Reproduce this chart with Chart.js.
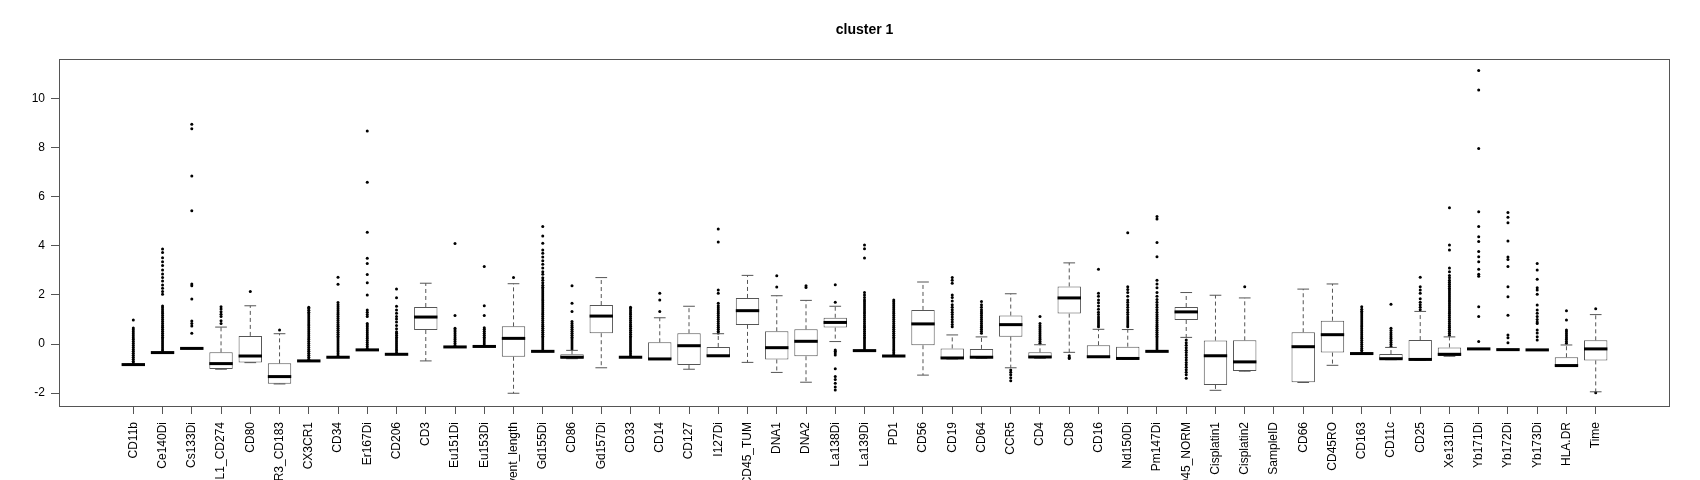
<!DOCTYPE html>
<html lang="en">
<head>
    <meta charset="UTF-8">
    <title>cluster 1</title>
    <style>
        html, body { margin: 0; padding: 0; background: #fff; }
        #wrap { width: 1700px; height: 480px; }
    </style>
</head>
<body>
    <div id="wrap"><canvas id="boxChart" width="1700" height="480"></canvas></div>
    <script src="https://cdn.jsdelivr.net/npm/chart.js"></script>
    <script>
        const categories = ['CD11b', 'Ce140Di', 'Cs133Di', 'PD.L1_CD274', 'CD80', 'CXCR3_CD183', 'CX3CR1', 'CD34',
            'Er167Di', 'CD206', 'CD3', 'Eu151Di', 'Eu153Di', 'Event_length', 'Gd155Di', 'CD86', 'Gd157Di', 'CD33',
            'CD14', 'CD127', 'I127Di', 'CD45_TUM', 'DNA1', 'DNA2', 'La138Di', 'La139Di', 'PD1', 'CD56', 'CD19',
            'CD64', 'CCR5', 'CD4', 'CD8', 'CD16', 'Nd150Di', 'Pm147Di', 'CD45_NORM', 'Cisplatin1', 'Cisplatin2',
            'SampleID', 'CD66', 'CD45RO', 'CD163', 'CD11c', 'CD25', 'Xe131Di', 'Yb171Di', 'Yb172Di', 'Yb173Di',
            'HLA.DR', 'Time'];

        const whiskerLow = [-0.86, -0.36, -0.19, -1.03, -0.76, -1.63, -0.70, -0.55, -0.25, -0.43, -0.69, -0.13, -0.11,
            -2.01, -0.31, -0.60, -0.97, -0.55, -0.62, -1.03, -0.50, -0.75, -1.16, -1.56, 0.10, -0.28, -0.50, -1.27,
            -0.61, -0.58, -0.97, -0.58, -0.34, -0.54, -0.61, -0.31, 0.27, -1.89, -1.11, null, -1.57, -0.87, -0.40,
            -0.64, -0.66, -0.50, -0.21, -0.24, -0.25, -0.91, -1.95];
        const q1 = [-0.85, -0.36, -0.19, -1.02, -0.75, -1.62, -0.70, -0.55, -0.25, -0.43, 0.57, -0.13, -0.11,
            -0.52, -0.31, -0.59, 0.44, -0.55, -0.61, -0.86, -0.49, 0.78, -0.63, -0.50, 0.67, -0.28, -0.50, -0.05,
            -0.60, -0.57, 0.30, -0.57, 1.24, -0.53, -0.60, -0.31, 0.98, -1.67, -1.10, null, -1.56, -0.35, -0.40,
            -0.63, -0.65, -0.49, -0.21, -0.24, -0.25, -0.90, -0.67];
        const median = [-0.84, -0.35, -0.18, -0.80, -0.49, -1.33, -0.69, -0.54, -0.24, -0.42, 1.10, -0.12, -0.10,
            0.23, -0.30, -0.54, 1.14, -0.54, -0.61, -0.07, -0.48, 1.36, -0.15, 0.11, 0.88, -0.27, -0.49, 0.82,
            -0.57, -0.54, 0.79, -0.53, 1.88, -0.52, -0.59, -0.30, 1.31, -0.48, -0.73, null, -0.11, 0.38, -0.39,
            -0.60, -0.63, -0.42, -0.20, -0.23, -0.24, -0.88, -0.20];
        const q3 = [-0.83, -0.34, -0.17, -0.34, 0.33, -0.79, -0.68, -0.53, -0.23, -0.41, 1.51, -0.11, -0.09,
            0.72, -0.29, -0.42, 1.59, -0.53, 0.07, 0.44, -0.12, 1.88, 0.52, 0.60, 1.07, -0.26, -0.48, 1.39,
            -0.18, -0.20, 1.16, -0.34, 2.35, -0.05, -0.11, -0.29, 1.51, 0.14, 0.15, null, 0.48, 0.95, -0.38,
            -0.41, 0.16, -0.14, -0.19, -0.22, -0.23, -0.54, 0.15];
        const whiskerHigh = [-0.82, -0.34, -0.17, 0.69, 1.56, 0.42, -0.68, -0.53, -0.23, -0.41, 2.48, -0.11, -0.09,
            2.46, -0.29, -0.26, 2.71, -0.53, 1.07, 1.54, 0.42, 2.80, 1.97, 1.78, 1.54, -0.26, -0.48, 2.53,
            0.37, 0.29, 2.05, -0.03, 3.31, 0.60, 0.59, -0.29, 2.10, 1.99, 1.88, null, 2.24, 2.45, -0.38,
            -0.14, 1.33, 0.29, -0.19, -0.22, -0.23, -0.04, 1.20];

        const outliers = [
            [-0.78, -0.7, -0.62, -0.54, -0.46, -0.38, -0.3, -0.22, -0.14, -0.06, 0.02, 0.1, 0.18, 0.26, 0.34, 0.42, 0.5, 0.58, 0.65, 0.98],
            [-0.28, -0.2, -0.12, -0.04, 0.04, 0.12, 0.2, 0.28, 0.36, 0.44, 0.52, 0.6, 0.68, 0.76, 0.84, 0.92, 1.0, 1.08, 1.16, 1.24, 1.32, 1.4, 1.48, 1.55,
             2.03, 2.14, 2.27, 2.41, 2.57, 2.71, 2.86, 3.02, 3.2, 3.36, 3.52, 3.73, 3.88],
            [0.44, 0.73, 0.84, 0.94, 1.84, 2.38, 2.45, 5.44, 6.86, 8.78, 8.97],
            [0.84, 0.95, 1.12, 1.21, 1.32, 1.43, 1.52],
            [2.14],
            [0.57],
            [-0.62, -0.54, -0.46, -0.38, -0.3, -0.22, -0.14, -0.06, 0.02, 0.1, 0.18, 0.26, 0.34, 0.42, 0.5, 0.58, 0.66, 0.74, 0.82, 0.9, 0.98, 1.06, 1.14, 1.22, 1.3, 1.38, 1.45, 1.5],
            [-0.48, -0.4, -0.32, -0.24, -0.16, -0.08, 0, 0.08, 0.16, 0.24, 0.32, 0.4, 0.48, 0.56, 0.64, 0.72, 0.8, 0.88, 0.96, 1.04, 1.12, 1.2, 1.28, 1.36, 1.44, 1.52, 1.6, 1.69, 2.44, 2.72],
            [-0.18, -0.1, -0.02, 0.06, 0.14, 0.22, 0.3, 0.38, 0.46, 0.54, 0.62, 0.7, 0.78, 0.84, 1.12, 1.2, 1.3, 1.39, 2.0, 2.5, 2.84, 3.29, 3.5, 4.56, 6.6, 8.69],
            [-0.36, -0.28, -0.2, -0.12, -0.04, 0.04, 0.12, 0.2, 0.28, 0.36, 0.44, 0.5, 0.62, 0.75, 0.9, 1.02, 1.12, 1.25, 1.39, 1.54, 1.89, 2.24],
            [],
            [-0.06, 0.02, 0.1, 0.18, 0.26, 0.34, 0.42, 0.5, 0.57, 0.64, 1.16, 4.1],
            [-0.04, 0.04, 0.12, 0.2, 0.28, 0.36, 0.44, 0.52, 0.6, 0.66, 1.16, 1.56, 3.16],
            [2.71],
            [-0.24, -0.16, -0.08, 0, 0.08, 0.16, 0.24, 0.32, 0.4, 0.48, 0.56, 0.64, 0.72, 0.8, 0.88, 0.96, 1.04, 1.12, 1.2, 1.28, 1.36, 1.44, 1.52, 1.6,
             1.68, 1.76, 1.84, 1.92, 2.0, 2.08, 2.16, 2.24, 2.32, 2.4, 2.5, 2.6, 2.7, 2.85, 2.95, 3.1, 3.25, 3.4, 3.55, 3.7, 3.84, 4.11, 4.41, 4.79],
            [-0.2, -0.12, -0.04, 0.04, 0.12, 0.2, 0.28, 0.36, 0.44, 0.52, 0.6, 0.68, 0.76, 0.84, 0.92, 1.33, 1.66, 2.38],
            [],
            [-0.48, -0.4, -0.32, -0.24, -0.16, -0.08, 0, 0.08, 0.16, 0.24, 0.32, 0.4, 0.48, 0.56, 0.64, 0.72, 0.8, 0.88, 0.96, 1.04, 1.12, 1.2, 1.28, 1.36, 1.44, 1.5],
            [1.33, 1.8, 2.07],
            [],
            [0.45, 0.52, 0.6, 0.68, 0.76, 0.84, 0.92, 1.0, 1.08, 1.16, 1.24, 1.32, 1.4, 1.48, 1.56, 1.66, 2.07, 2.2, 4.16, 4.69],
            [],
            [2.33, 2.79],
            [2.31, 2.38],
            [-1.88, -1.75, -1.6, -1.45, -1.33, -1.01, -0.45, -0.37, -0.3, -0.24, 1.7, 2.42],
            [-0.2, -0.12, -0.04, 0.04, 0.12, 0.2, 0.28, 0.36, 0.44, 0.52, 0.6, 0.68, 0.76, 0.84, 0.92, 1.0, 1.08, 1.16, 1.24, 1.32, 1.4, 1.48, 1.56, 1.64,
             1.72, 1.8, 1.9, 2.0, 2.1, 3.51, 3.89, 4.04],
            [-0.44, -0.36, -0.28, -0.2, -0.12, -0.04, 0.04, 0.12, 0.2, 0.28, 0.36, 0.44, 0.52, 0.6, 0.68, 0.76, 0.84, 0.92, 1.0, 1.08, 1.16, 1.24, 1.32, 1.4,
             1.48, 1.56, 1.64, 1.72, 1.8],
            [],
            [0.7, 0.8, 0.9, 1.0, 1.1, 1.2, 1.3, 1.4, 1.5, 1.6, 1.75, 1.9, 2.0, 2.48, 2.6, 2.71],
            [0.44, 0.52, 0.6, 0.68, 0.76, 0.84, 0.92, 1.0, 1.08, 1.16, 1.24, 1.32, 1.4, 1.5, 1.6, 1.73],
            [-1.06, -1.15, -1.25, -1.38, -1.5],
            [0.03, 0.1, 0.18, 0.26, 0.34, 0.42, 0.5, 0.58, 0.66, 0.74, 0.84, 1.12],
            [-0.48, -0.55, -0.59],
            [0.7, 0.78, 0.86, 0.94, 1.02, 1.1, 1.2, 1.3, 1.42, 1.55, 1.68, 1.8, 1.95, 2.07, 3.05],
            [0.7, 0.78, 0.86, 0.94, 1.02, 1.1, 1.2, 1.3, 1.4, 1.5, 1.6, 1.7, 1.8, 1.95, 2.1, 2.22, 2.34, 4.54],
            [-0.24, -0.16, -0.08, 0, 0.08, 0.16, 0.24, 0.32, 0.4, 0.48, 0.56, 0.64, 0.72, 0.8, 0.88, 0.96, 1.04, 1.12, 1.2, 1.3, 1.4, 1.5, 1.6, 1.7,
             1.82, 1.95, 2.1, 2.3, 2.45, 2.6, 3.56, 4.14, 5.1, 5.2],
            [0.16, 0.05, -0.05, -0.15, -0.25, -0.35, -0.45, -0.55, -0.65, -0.75, -0.85, -0.95, -1.05, -1.15, -1.25, -1.4],
            [],
            [2.34],
            [],
            [],
            [],
            [-0.34, -0.26, -0.18, -0.1, -0.02, 0.06, 0.14, 0.22, 0.3, 0.38, 0.46, 0.54, 0.62, 0.7, 0.78, 0.86, 0.94, 1.02, 1.1, 1.18, 1.26, 1.34, 1.42, 1.52],
            [-0.1, -0.02, 0.06, 0.14, 0.22, 0.3, 0.38, 0.46, 0.55, 0.64, 1.62],
            [1.4, 1.5, 1.6, 1.7, 1.85, 2.07, 2.2, 2.34, 2.72],
            [0.36, 0.44, 0.52, 0.6, 0.68, 0.76, 0.84, 0.92, 1.0, 1.08, 1.16, 1.24, 1.32, 1.4, 1.48, 1.56, 1.64, 1.72, 1.8, 1.88, 1.96, 2.04, 2.12, 2.2,
             2.28, 2.36, 2.44, 2.52, 2.6, 2.7, 2.8, 2.95, 3.1, 3.84, 4.04, 5.56],
            [0.1, 1.12, 1.52, 2.76, 2.85, 3.05, 3.36, 3.56, 3.77, 4.18, 4.38, 4.79, 5.4, 7.98, 10.37, 11.16],
            [0.05, 0.26, 0.37, 1.17, 1.93, 2.34, 3.16, 3.45, 3.55, 4.2, 4.95, 5.17, 5.37],
            [0.16, 0.3, 0.45, 0.57, 0.84, 0.9, 1.0, 1.12, 1.25, 1.39, 1.59, 2.03, 2.2, 2.3, 2.64, 3.02, 3.29],
            [0.03, 0.1, 0.18, 0.26, 0.34, 0.42, 0.5, 0.57, 0.98, 1.36],
            [1.44, -1.99]
        ];

        const yTicks = [-2, 0, 2, 4, 6, 8, 10];
        const yRange = [-2.53, 11.63];
        const xRange = [-1.54, 53.54];
        const chartTitle = 'cluster 1';

        const lineGrey = '#555555';
        const fontFamily = '"Liberation Sans", Arial, Helvetica, sans-serif';

        // boxes as floating bars, outliers as scatter points
        const boxData = [];
        categories.forEach((c, i) => {
            if (q1[i] !== null) boxData.push({ x: i + 1, y: [q1[i], q3[i]] });
        });
        const outlierData = [];
        outliers.forEach((vals, i) => vals.forEach(v => outlierData.push({ x: i + 1, y: v })));

        // whiskers, caps, medians, plot frame and the title centred over the plot
        const boxParts = {
            id: 'boxParts',
            afterDatasetsDraw(chart) {
                const { ctx, chartArea, scales: { x, y } } = chart;
                const halfBox = (x.getPixelForValue(2) - x.getPixelForValue(1)) * 0.4;
                const halfCap = halfBox / 2;
                ctx.save();
                ctx.lineCap = 'butt';
                categories.forEach((c, i) => {
                    if (median[i] === null) return;
                    const px = x.getPixelForValue(i + 1);
                    const yq1 = y.getPixelForValue(q1[i]);
                    const yq3 = y.getPixelForValue(q3[i]);
                    const ylo = y.getPixelForValue(whiskerLow[i]);
                    const yhi = y.getPixelForValue(whiskerHigh[i]);
                    ctx.strokeStyle = lineGrey;
                    ctx.lineWidth = 1;
                    ctx.setLineDash([4, 3]);
                    ctx.beginPath();
                    ctx.moveTo(px, yq1); ctx.lineTo(px, ylo);
                    ctx.moveTo(px, yq3); ctx.lineTo(px, yhi);
                    ctx.stroke();
                    ctx.setLineDash([]);
                    ctx.beginPath();
                    ctx.moveTo(px - halfCap, ylo); ctx.lineTo(px + halfCap, ylo);
                    ctx.moveTo(px - halfCap, yhi); ctx.lineTo(px + halfCap, yhi);
                    ctx.stroke();
                    const ym = y.getPixelForValue(median[i]);
                    ctx.strokeStyle = '#000';
                    ctx.lineWidth = 3;
                    ctx.beginPath();
                    ctx.moveTo(px - halfBox, ym); ctx.lineTo(px + halfBox, ym);
                    ctx.stroke();
                });
                ctx.strokeStyle = lineGrey;
                ctx.lineWidth = 1;
                ctx.strokeRect(chartArea.left + 0.5, chartArea.top + 0.5,
                    chartArea.right - chartArea.left - 1, chartArea.bottom - chartArea.top);

                ctx.fillStyle = '#000';
                ctx.font = 'bold 14px ' + fontFamily;
                ctx.textAlign = 'center';
                ctx.textBaseline = 'middle';
                ctx.fillText(chartTitle, (chartArea.left + chartArea.right) / 2, chartArea.top - 29);
                ctx.restore();
            }
        };

        new Chart(document.getElementById('boxChart').getContext('2d'), {
            type: 'bar',
            data: {
                datasets: [
                    {
                        type: 'scatter',
                        label: 'outliers',
                        data: outlierData,
                        pointRadius: 1.5,
                        pointBackgroundColor: '#000',
                        pointBorderWidth: 0,
                        order: 0
                    },
                    {
                        label: 'box',
                        data: boxData,
                        backgroundColor: '#ffffff',
                        borderColor: lineGrey,
                        borderWidth: 1,
                        borderSkipped: false,
                        categoryPercentage: 1,
                        barPercentage: 0.8,
                        order: 1
                    }
                ]
            },
            options: {
                responsive: false,
                animation: false,
                devicePixelRatio: 1,
                layout: { padding: { left: 0, right: 30, top: 59, bottom: 0 } },
                plugins: {
                    legend: { display: false },
                    tooltip: { enabled: false },
                    title: { display: false }
                },
                scales: {
                    x: {
                        type: 'linear',
                        min: xRange[0],
                        max: xRange[1],
                        offset: false,
                        afterBuildTicks: scale => { scale.ticks = categories.map((c, i) => ({ value: i + 1 })); },
                        afterFit: scale => { scale.height = 74; },
                        grid: { offset: false, drawOnChartArea: false, drawTicks: true, tickLength: 8, tickColor: lineGrey },
                        border: { display: false },
                        ticks: {
                            autoSkip: false,
                            minRotation: 90,
                            maxRotation: 90,
                            padding: 8,
                            color: '#000',
                            font: { family: fontFamily, size: 12 },
                            callback: v => categories[v - 1]
                        }
                    },
                    y: {
                        min: yRange[0],
                        max: yRange[1],
                        afterBuildTicks: scale => { scale.ticks = yTicks.map(v => ({ value: v })); },
                        afterFit: scale => { scale.width = 59; },
                        grid: { drawOnChartArea: false, drawTicks: true, tickLength: 8, tickColor: lineGrey },
                        border: { display: false },
                        ticks: {
                            padding: 6,
                            color: '#000',
                            font: { family: fontFamily, size: 12 },
                            callback: v => String(v)
                        }
                    }
                }
            },
            plugins: [boxParts]
        });
    </script>
</body>
</html>
